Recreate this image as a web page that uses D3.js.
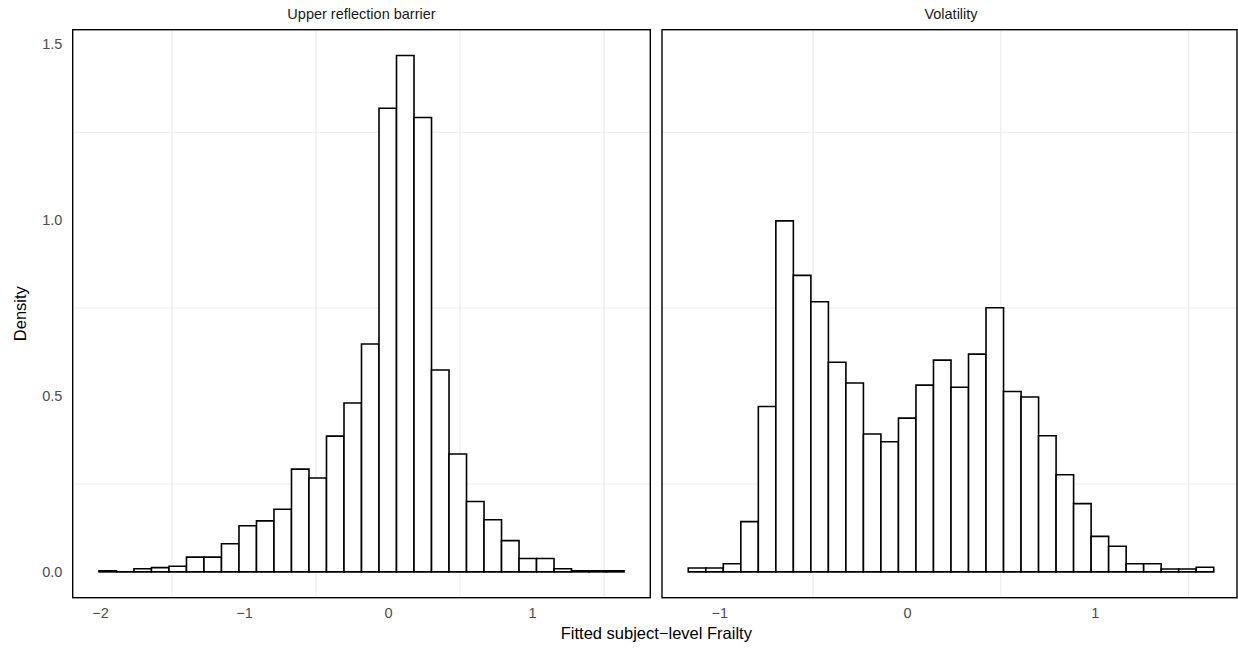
<!DOCTYPE html>
<html>
<head>
<meta charset="utf-8">
<script src="https://cdn.jsdelivr.net/npm/d3@7"></script>
<style>
  html, body { margin: 0; padding: 0; background: #fff; }
  svg { display: block; }
</style>
</head>
<body>
<svg id="chart" width="1238" height="651"></svg>
<script>
// ---- Data ----
const panelTitles = ["Upper reflection barrier", "Volatility"];

// Left panel histogram (density per bin), 30 bins
const leftBinStart = -2.007;
const leftBinWidth = 0.1215;
const leftDensity = [0.003, 0.0, 0.009, 0.012, 0.016, 0.042, 0.042, 0.080, 0.131, 0.145,
                     0.178, 0.292, 0.267, 0.386, 0.480, 0.648, 1.318, 1.468, 1.292, 0.574,
                     0.335, 0.200, 0.148, 0.089, 0.038, 0.038, 0.009, 0.003, 0.003, 0.003];

// Right panel histogram (density per bin), 30 bins
const rightBinStart = -1.165;
const rightBinWidth = 0.0933;
const rightDensity = [0.011, 0.011, 0.023, 0.143, 0.470, 0.998, 0.843, 0.768, 0.596, 0.537,
                      0.392, 0.370, 0.437, 0.531, 0.602, 0.525, 0.619, 0.751, 0.513, 0.497,
                      0.387, 0.276, 0.194, 0.101, 0.073, 0.023, 0.023, 0.008, 0.008, 0.013];

const yTicks = [0.0, 0.5, 1.0, 1.5];
const yMinorGrid = [0.25, 0.75, 1.25];
const leftXTicks = [-2, -1, 0, 1];
const leftXMinorGrid = [-1.5, -0.5, 0.5, 1.5];
const rightXTicks = [-1, 0, 1];
const rightXMinorGrid = [-0.5, 0.5, 1.5];

const xTitle = "Fitted subject\u2212level Frailty";
const yTitle = "Density";

// ---- Layout ----
const svg = d3.select("#chart");
const FONT = "'Liberation Sans', Arial, Helvetica, sans-serif";
const TICK_FS = 14.5, STRIP_FS = 14.5, TITLE_FS = 16.5;
const panelTop = 29.7, panelBottom = 597.7;
const panels = [
  { x0: 72.7, x1: 650.3, start: leftBinStart, width: leftBinWidth, dens: leftDensity,
    ticks: leftXTicks, grid: leftXMinorGrid, title: panelTitles[0] },
  { x0: 662, x1: 1240, start: rightBinStart, width: rightBinWidth, dens: rightDensity,
    ticks: rightXTicks, grid: rightXMinorGrid, title: panelTitles[1] }
];

const yMax = d3.max([...leftDensity, ...rightDensity]);
const y = d3.scaleLinear().domain([-0.05 * yMax, yMax * 1.05]).range([panelBottom, panelTop]);

const fmt = d3.format(".1f");
const minusFmt = v => (v < 0 ? "\u2212" + Math.abs(v) : String(v));

panels.forEach((p, pi) => {
  const bins = p.dens.map((d, i) => ({ x0: p.start + i * p.width, x1: p.start + (i + 1) * p.width, d }));
  const lo = bins[0].x0, hi = bins[bins.length - 1].x1;
  const exp = (hi - lo) * 0.05;
  const x = d3.scaleLinear().domain([lo - exp, hi + exp]).range([p.x0, p.x1]);
  const rightEdge = Math.min(p.x1, 1237);

  const g = svg.append("g");
  g.append("rect").attr("x", p.x0).attr("y", panelTop).attr("width", rightEdge - p.x0).attr("height", panelBottom - panelTop)
    .attr("fill", "#fff");

  // minor gridlines
  g.selectAll(".hg").data(yMinorGrid).join("line")
    .attr("x1", p.x0).attr("x2", rightEdge).attr("y1", d => y(d)).attr("y2", d => y(d))
    .attr("stroke", "#ebebeb").attr("stroke-width", 1.1);
  g.selectAll(".vg").data(p.grid).join("line")
    .attr("x1", d => x(d)).attr("x2", d => x(d)).attr("y1", panelTop).attr("y2", panelBottom)
    .attr("stroke", "#ebebeb").attr("stroke-width", 1.1);

  // bars (paths so that zero-height bins still draw their outline)
  g.selectAll(".bar").data(bins).join("path")
    .attr("d", d => {
      const a = x(d.x0), b = x(d.x1), y0 = y(0), y1 = y(d.d);
      return `M${a},${y0}V${y1}H${b}V${y0}Z`;
    })
    .attr("fill", "#fff").attr("stroke", "#000").attr("stroke-width", 1.6)
    .attr("stroke-linejoin", "miter");

  // border
  g.append("rect").attr("x", p.x0).attr("y", panelTop).attr("width", rightEdge - p.x0).attr("height", panelBottom - panelTop)
    .attr("fill", "none").attr("stroke", "#000").attr("stroke-width", 1.4);

  // x axis
  const xAxis = d3.axisBottom(x).tickValues(p.ticks).tickFormat(minusFmt).tickSize(0).tickPadding(10);
  const ax = svg.append("g").attr("transform", `translate(0,${panelBottom})`).call(xAxis);
  ax.select(".domain").remove();
  ax.attr("font-family", FONT).attr("font-size", TICK_FS);
  ax.selectAll("text").attr("font-family", FONT).attr("font-size", TICK_FS).attr("fill", "#4d4d4d");

  // strip title
  svg.append("text").attr("x", (p.x0 + p.x1) / 2).attr("y", 18.5)
    .attr("text-anchor", "middle").attr("font-family", FONT).attr("font-size", STRIP_FS)
    .attr("fill", "#1a1a1a").text(p.title);

  if (pi === 0) {
    const yAxis = d3.axisLeft(y).tickValues(yTicks).tickFormat(fmt).tickSize(0).tickPadding(10.4);
    const ay = svg.append("g").attr("transform", `translate(${p.x0},0)`).call(yAxis);
    ay.select(".domain").remove();
    ay.attr("font-family", FONT).attr("font-size", TICK_FS);
    ay.selectAll("text").attr("font-family", FONT).attr("font-size", TICK_FS).attr("fill", "#4d4d4d");
  }
});

// axis titles
svg.append("text").attr("x", (72.7 + 1240) / 2).attr("y", 638.5)
  .attr("text-anchor", "middle").attr("font-family", FONT).attr("font-size", TITLE_FS)
  .attr("fill", "#000").text(xTitle);
svg.append("text").attr("transform", `translate(26,${(panelTop + panelBottom) / 2}) rotate(-90)`)
  .attr("text-anchor", "middle").attr("font-family", FONT).attr("font-size", TITLE_FS)
  .attr("fill", "#000").text(yTitle);
</script>
</body>
</html>
